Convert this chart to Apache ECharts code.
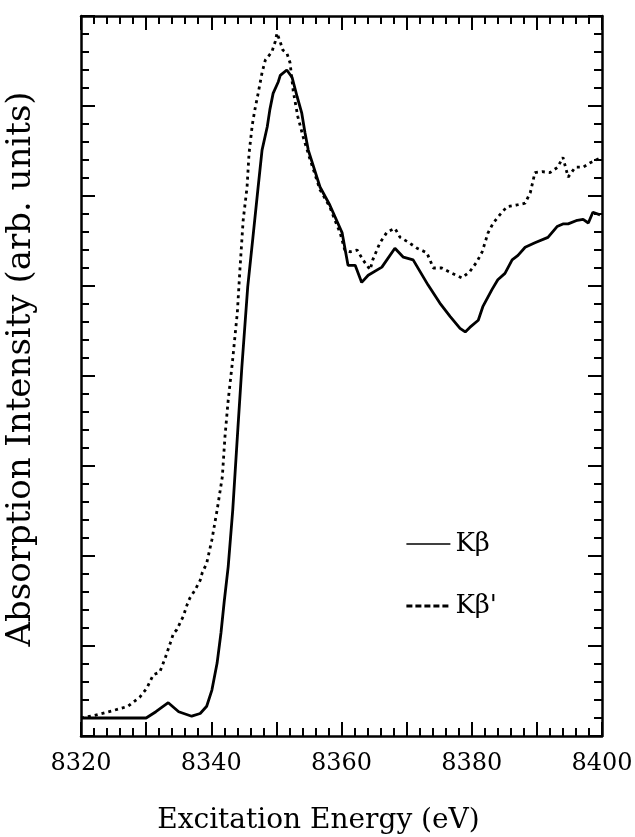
<!DOCTYPE html>
<html>
<head>
<meta charset="utf-8">
<script src="https://cdn.jsdelivr.net/npm/echarts@6/dist/echarts.min.js"></script>
<style>
  html, body { margin: 0; padding: 0; background: #fff; }
  #chart { width: 635px; height: 837px; }
</style>
</head>
<body>
<div id="chart"></div>
<script>
// energies (eV) and intensities, Kβ (solid)
const kbEnergy = [8320, 8325, 8330, 8331.5, 8333.4, 8335, 8337, 8338.3, 8339.3, 8340.1, 8340.9, 8341.5,
  8342, 8342.6, 8343.3, 8344.1, 8344.7, 8345.6, 8346.4, 8347.2, 8347.8, 8348.6, 8349, 8349.5, 8350.3,
  8350.6, 8351.6, 8352.4, 8353.2, 8353.9, 8354.4, 8354.9, 8356.7, 8358.2, 8360.1, 8361, 8362.1, 8363.1,
  8364.1, 8366.2, 8368.2, 8369.5, 8371, 8373.3, 8375.1, 8376.7, 8378.2, 8379, 8379.7, 8381, 8381.7,
  8383.1, 8384, 8385.1, 8386.2, 8387.1, 8388.2, 8389.7, 8391.7, 8393.1, 8394, 8394.8, 8396.2, 8397.1,
  8397.9, 8398.6, 8399.7];
const kbIntensity = [0.2, 0.2, 0.2, 0.27, 0.37, 0.27, 0.22, 0.25, 0.33, 0.51, 0.81, 1.15,
  1.5, 1.88, 2.51, 3.43, 4.1, 4.99, 5.54, 6.1, 6.51, 6.77, 6.96, 7.14, 7.27,
  7.34, 7.4, 7.32, 7.1, 6.92, 6.7, 6.51, 6.1, 5.9, 5.59, 5.23, 5.23, 5.04,
  5.12, 5.21, 5.42, 5.32, 5.29, 5.01, 4.81, 4.66, 4.53, 4.49, 4.54, 4.62, 4.77,
  4.96, 5.07, 5.14, 5.29, 5.34, 5.43, 5.48, 5.54, 5.66, 5.69, 5.69, 5.73, 5.74,
  5.7, 5.82, 5.79];

// Kβ' (dashed)
const kbpEnergy = [8320, 8322.1, 8324.8, 8327.2, 8329, 8330.1, 8331.1, 8332.1, 8332.9, 8333.7, 8334.2,
  8334.7, 8335.7, 8336.3, 8336.7, 8337.5, 8338.3, 8338.6, 8339.3, 8340.1, 8340.9, 8341.7, 8342.1,
  8342.6, 8343.2, 8344, 8344.4, 8344.9, 8345.5, 8345.8, 8346.3, 8346.7, 8347.2, 8347.8, 8348.3, 8349.3,
  8349.8, 8350.1, 8350.6, 8351, 8351.6, 8352.1, 8352.6, 8353.3, 8354.1, 8355.2, 8356.7, 8358.2, 8359,
  8359.8, 8360.5, 8361.3, 8362.4, 8363.3, 8364.4, 8364.8, 8365.9, 8367, 8368.2, 8369, 8370.2, 8371.6,
  8373.1, 8374.1, 8375.4, 8377, 8378.5, 8379.7, 8380.8, 8381.6, 8382.5, 8383.3, 8384.3, 8385.4, 8386.9,
  8388.2, 8389, 8389.7, 8390.8, 8392, 8393.2, 8394, 8394.8, 8395.9, 8397.1, 8398.2, 8399.7];
const kbpIntensity = [0.2, 0.23, 0.28, 0.33, 0.43, 0.53, 0.68, 0.71, 0.86, 1.03, 1.14,
  1.18, 1.33, 1.46, 1.53, 1.62, 1.73, 1.81, 1.92, 2.18, 2.51, 2.88, 3.32,
  3.73, 4.12, 4.7, 5.18, 5.73, 6.1, 6.47, 6.79, 6.96, 7.14, 7.37, 7.51, 7.6,
  7.71, 7.81, 7.71, 7.62, 7.59, 7.48, 7.16, 6.88, 6.66, 6.4, 6.07, 5.88, 5.73,
  5.59, 5.4, 5.38, 5.4, 5.29, 5.18, 5.29, 5.48, 5.6, 5.64, 5.54, 5.49, 5.42,
  5.37, 5.2, 5.2, 5.14, 5.09, 5.16, 5.27, 5.38, 5.59, 5.7, 5.79, 5.88, 5.9,
  5.92, 6.04, 6.26, 6.27, 6.26, 6.32, 6.43, 6.21, 6.32, 6.32, 6.37, 6.42];

const seriesNames = ["Kβ", "Kβ'"];
const xTickLabels = [8320, 8340, 8360, 8380, 8400];

const serif = "DejaVu Serif";

function zip(xs, ys) {
  return xs.map(function (x, i) { return [x, ys[i]]; });
}

const chart = echarts.init(document.getElementById("chart"), null, { renderer: "canvas" });

const xCommon = {
  type: "value",
  min: 8320,
  max: 8400,
  interval: 10,
  axisLine: { show: true, onZero: false, lineStyle: { color: "#000", width: 2.5 } },
  axisTick: { show: true, inside: true, length: 14, lineStyle: { color: "#000", width: 2 } },
  minorTick: { show: true, splitNumber: 5, length: 8, lineStyle: { color: "#000", width: 2 } },
  splitLine: { show: false },
};

const yCommon = {
  type: "value",
  min: 0,
  max: 8,
  interval: 1,
  axisLine: { show: true, onZero: false, lineStyle: { color: "#000", width: 2.5 } },
  axisTick: { show: true, inside: true, length: 14, lineStyle: { color: "#000", width: 2 } },
  minorTick: { show: true, splitNumber: 5, length: 8, lineStyle: { color: "#000", width: 2 } },
  splitLine: { show: false },
  axisLabel: { show: false },
};

chart.setOption({
  animation: false,
  backgroundColor: "#fff",
  grid: { left: 81, right: 33, top: 16, bottom: 101, outerBoundsMode: "none" },
  legend: {
    orient: "vertical",
    left: 400,
    top: 526,
    itemGap: 36,
    itemWidth: 44,
    itemHeight: 14,
    textStyle: { fontFamily: serif, fontSize: 26, color: "#000" },
    data: [
      {
        name: seriesNames[0],
        itemStyle: { opacity: 0 },
        lineStyle: { type: "solid", width: 1.5, color: "#000" },
      },
      {
        name: seriesNames[1],
        itemStyle: { opacity: 0 },
        lineStyle: { type: [6, 3], width: 2.8, color: "#000" },
      },
    ],
  },
  xAxis: [
    Object.assign({}, xCommon, {
      position: "bottom",
      name: "Excitation Energy (eV)",
      nameLocation: "middle",
      nameGap: 71,
      nameTextStyle: { fontFamily: serif, fontSize: 28, color: "#000", padding: [0, 46, 0, 0] },
      axisLabel: {
        show: true,
        margin: 16,
        fontFamily: serif,
        fontSize: 24,
        color: "#000",
        formatter: function (v) {
          return xTickLabels.indexOf(v) >= 0 ? String(v) : "";
        },
      },
    }),
    Object.assign({}, xCommon, { position: "top", axisLabel: { show: false } }),
  ],
  yAxis: [
    Object.assign({}, yCommon, {
      position: "left",
      name: "Absorption Intensity (arb. units)",
      nameLocation: "middle",
      nameGap: 43,
      nameTextStyle: { fontFamily: serif, fontSize: 34, color: "#000", padding: [0, 0, 0, 14] },
    }),
    Object.assign({}, yCommon, { position: "right" }),
  ],
  series: [
    {
      name: seriesNames[0],
      type: "line",
      showSymbol: false,
      symbol: "none",
      itemStyle: { color: "#000" },
      lineStyle: { color: "#000", width: 2.8, type: "solid" },
      data: zip(kbEnergy, kbIntensity),
    },
    {
      name: seriesNames[1],
      type: "line",
      showSymbol: false,
      symbol: "none",
      itemStyle: { color: "#000" },
      lineStyle: { color: "#000", width: 2.8, type: [3, 4] },
      data: zip(kbpEnergy, kbpIntensity),
    },
  ],
});
</script>
</body>
</html>
